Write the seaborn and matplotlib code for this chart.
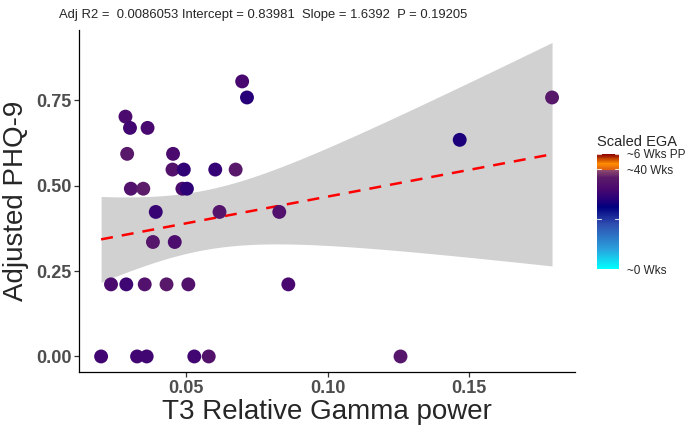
import numpy as np
import pandas as pd
import matplotlib
matplotlib.use("Agg")
import matplotlib.pyplot as plt
from matplotlib.colors import LinearSegmentedColormap, Normalize
from matplotlib.cm import ScalarMappable
import seaborn as sns

# values
gamma_power = [0.0698, 0.0715, 0.0286, 0.0302, 0.0364, 0.0292, 0.0454, 0.0452,
               0.0492, 0.0603, 0.0675, 0.0305, 0.0349, 0.0487, 0.0503, 0.0393,
               0.0618, 0.0829, 0.0383, 0.0460, 0.0235, 0.0289, 0.0354, 0.0431,
               0.0508, 0.0861, 0.0200, 0.0327, 0.0361, 0.0529, 0.0580, 0.1257,
               0.1466, 0.1792]
phq9 = [0.805, 0.758, 0.702, 0.669, 0.669, 0.593, 0.593, 0.547,
        0.547, 0.547, 0.547, 0.491, 0.491, 0.491, 0.491, 0.423,
        0.423, 0.423, 0.335, 0.335, 0.211, 0.211, 0.211, 0.211,
        0.211, 0.211, 0.0, 0.0, 0.0, 0.0, 0.0, 0.0,
        0.634, 0.758]
scaled_ega = [0.80, 0.70, 0.82, 0.78, 0.80, 0.90, 0.82, 0.86,
              0.73, 0.74, 0.90, 0.85, 0.92, 0.82, 0.72, 0.75,
              0.87, 0.85, 0.88, 0.83, 0.82, 0.77, 0.85, 0.90,
              0.86, 0.80, 0.78, 0.78, 0.78, 0.78, 0.86, 0.88,
              0.68, 0.90]

ega_ticks = [0.0, 1.0, 1.155]
ega_labels = ["~0 Wks", "~40 Wks", "~6 Wks PP"]
title = "Adj R2 =  0.0086053 Intercept = 0.83981  Slope = 1.6392  P = 0.19205"

df = pd.DataFrame({"power": gamma_power, "phq": phq9, "ega": scaled_ega})

ega_max = 1.155
nodes = [(0.0, "#00ffff"), (0.2, "#2aa0dc"), (0.45, "#2f4db0"), (0.62, "#00007f"),
         (0.70, "#260079"), (0.80, "#48086f"), (0.92, "#5c1c6a"), (0.995, "#8e4a6e"),
         (1.0, "#e06010"), (1.06, "#ff8c00"), (1.155, "#8b0000")]
cmap = LinearSegmentedColormap.from_list(
    "ega", [(v / ega_max, c) for v, c in nodes])
norm = Normalize(0, ega_max)

sns.set_style("white")
plt.rcParams["font.family"] = ["Liberation Sans", "DejaVu Sans"]

fig = plt.figure(figsize=(7, 4.32), dpi=100)
ax = fig.add_axes([79 / 700, 60 / 432, 496 / 700, 342 / 432])

# t-based 95% band of the linear fit (same as an lm smooth)
x = df["power"].to_numpy()
y = df["phq"].to_numpy()
n = len(x)
b1, b0 = np.polyfit(x, y, 1)
resid = y - (b0 + b1 * x)
s_err = np.sqrt(np.sum(resid ** 2) / (n - 2))
sxx = np.sum((x - x.mean()) ** 2)
xg = np.linspace(x.min(), x.max(), 200)
from scipy import stats as _st  # noqa: E402
tq = _st.t.ppf(0.975, n - 2)
half = tq * s_err * np.sqrt(1 / n + (xg - x.mean()) ** 2 / sxx)
fit = b0 + b1 * xg
ax.fill_between(xg, fit - half, fit + half, color="#d1d1d1", lw=0, zorder=1)

sns.regplot(data=df, x="power", y="phq", scatter=False, ci=None,
            line_kws=dict(color="red", lw=1.8, dashes=(4.8, 3.6), zorder=2), ax=ax)

sns.scatterplot(data=df, x="power", y="phq", hue="ega", palette=cmap, hue_norm=norm,
                s=100, linewidth=0, legend=False, zorder=3, ax=ax)

ax.set_xlim(0.0122, 0.1873)
ax.set_ylim(-0.0455, 0.9555)
ax.set_xticks([0.05, 0.10, 0.15])
ax.set_yticks([0.0, 0.25, 0.50, 0.75])
ax.set_xticklabels(["0.05", "0.10", "0.15"])
ax.set_yticklabels(["0.00", "0.25", "0.50", "0.75"])
for s in ["top", "right"]:
    ax.spines[s].set_visible(False)
for s in ["left", "bottom"]:
    ax.spines[s].set_color("black")
    ax.spines[s].set_linewidth(0.9)
ax.tick_params(axis="both", direction="out", length=3.5, width=0.9, color="#333333",
               labelsize=13, labelcolor="#4d4d4d", pad=2, bottom=True, left=True)
for lab in ax.get_xticklabels() + ax.get_yticklabels():
    lab.set_fontweight("bold")
ax.set_xlabel("T3 Relative Gamma power", fontsize=20, labelpad=2)
ax.set_ylabel("Adjusted PHQ-9", fontsize=20, labelpad=5)

fig.text(59 / 700, 1 - 15 / 432, title, fontsize=9.4, va="center", ha="left")

# colour bar legend
cax = fig.add_axes([597 / 700, 163 / 432, 22 / 700, 115 / 432])
cb = fig.colorbar(ScalarMappable(norm=norm, cmap=cmap), cax=cax)
cb.outline.set_visible(False)
cb.set_ticks(ega_ticks)
cb.set_ticklabels(ega_labels)
cax.tick_params(length=0, labelsize=8.5, pad=6)
for v in [0.5, 1.0, 1.151]:
    cax.plot([0, 0.2], [v, v], color="white", lw=0.8, alpha=0.8, transform=cax.get_yaxis_transform())
    cax.plot([0.8, 1.0], [v, v], color="white", lw=0.8, alpha=0.8, transform=cax.get_yaxis_transform())
cax.set_title("Scaled EGA", fontsize=10.5, loc="left", pad=6)

fig.savefig("out.png", dpi=100)
